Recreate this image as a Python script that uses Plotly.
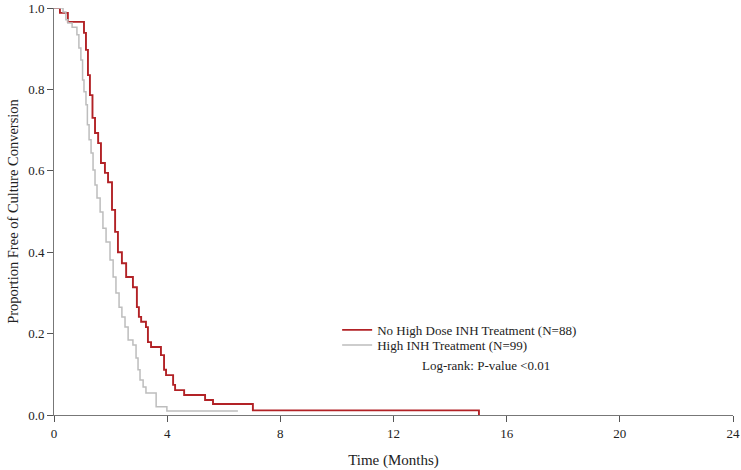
import plotly.graph_objects as go

# No High Dose INH Treatment (N=88): step times (months) and survival after each step
no_high_t = [0, 0.21, 0.49, 1.06, 1.13, 1.20, 1.27, 1.36, 1.45, 1.56, 1.66, 1.80, 1.91,
             2.05, 2.16, 2.26, 2.40, 2.55, 2.79, 2.93, 3.00, 3.08, 3.25, 3.32, 3.43,
             3.78, 3.89, 3.96, 4.21, 4.28, 4.60, 5.34, 5.62, 7.03, 15.02]
no_high_s = [1.0, 0.988, 0.966, 0.939, 0.897, 0.835, 0.786, 0.730, 0.693, 0.668, 0.619,
             0.595, 0.572, 0.504, 0.450, 0.400, 0.373, 0.339, 0.314, 0.265, 0.241, 0.229,
             0.216, 0.179, 0.167, 0.147, 0.111, 0.098, 0.074, 0.061, 0.049, 0.037, 0.027,
             0.0114, 0.0]

# High INH Treatment (N=99)
high_t = [0, 0.32, 0.42, 0.49, 0.64, 0.81, 0.88, 0.95, 1.01, 1.06, 1.13, 1.18, 1.24, 1.31,
          1.38, 1.45, 1.52, 1.63, 1.73, 1.84, 1.98, 2.09, 2.19, 2.30, 2.40, 2.51, 2.62,
          2.79, 2.90, 2.97, 3.04, 3.15, 3.25, 3.61, 3.99, 6.50]
high_s = [1.0, 0.990, 0.971, 0.963, 0.953, 0.934, 0.902, 0.872, 0.823, 0.794, 0.762, 0.713,
          0.676, 0.644, 0.602, 0.565, 0.533, 0.499, 0.459, 0.425, 0.381, 0.339, 0.300,
          0.265, 0.241, 0.216, 0.184, 0.172, 0.140, 0.111, 0.086, 0.069, 0.054, 0.020,
          0.0101, 0.0101]

x_ticks = [0, 4, 8, 12, 16, 20, 24]
y_ticks = [0.0, 0.2, 0.4, 0.6, 0.8, 1.0]
y_tick_labels = ["0.0", "0.2", "0.4", "0.6", "0.8", "1.0"]

FONT = "Liberation Serif, Times New Roman, serif"
TXT = "#222222"

fig = go.Figure()
fig.add_trace(go.Scatter(
    x=no_high_t, y=no_high_s, mode="lines", line_shape="hv",
    line=dict(color="#B22226", width=1.9),
    name="No High Dose INH Treatment (N=88)", legend="legend"))
fig.add_trace(go.Scatter(
    x=high_t, y=high_s, mode="lines", line_shape="hv",
    line=dict(color="#BDBDBD", width=1.5),
    name="High INH Treatment (N=99)", legend="legend2"))

leg_common = dict(xanchor="left", yanchor="middle", bgcolor="rgba(0,0,0,0)",
                  font=dict(family=FONT, size=13, color=TXT), itemwidth=30,
                  borderwidth=0)

fig.update_layout(
    width=741, height=470,
    margin=dict(l=54, r=8, t=8, b=55),
    plot_bgcolor="white", paper_bgcolor="white",
    font=dict(family=FONT, size=13, color=TXT),
    showlegend=True,
    legend=dict(x=0.417, y=0.209, **leg_common),
    legend2=dict(x=0.417, y=0.172, **leg_common),
    annotations=[dict(x=0.636, y=0.098, xref="paper", yref="paper",
                      text="Log-rank: P-value <0.01", showarrow=False,
                      font=dict(family=FONT, size=13, color=TXT))],
)
fig.update_xaxes(
    range=[0, 24], tickvals=x_ticks, ticks="outside", ticklen=6, tickcolor="#555555",
    showline=True, linecolor="#777777", linewidth=1, showgrid=False, zeroline=False,
    automargin=False,
    title=dict(text="Time (Months)", font=dict(family=FONT, size=15, color=TXT), standoff=14),
    tickfont=dict(family=FONT, size=13, color=TXT))
fig.update_yaxes(
    range=[0, 1.0], tickvals=y_ticks, ticktext=y_tick_labels, ticks="outside", ticklen=6,
    tickcolor="#555555", showline=True, linecolor="#777777", linewidth=1,
    showgrid=False, zeroline=False, automargin=False,
    title=dict(text="Proportion Free of Culture Conversion",
               font=dict(family=FONT, size=14.5, color=TXT), standoff=6),
    tickfont=dict(family=FONT, size=13, color=TXT))

fig.write_html("out.html", config={"displayModeBar": False},
               post_script="document.body.style.margin='0px';")
